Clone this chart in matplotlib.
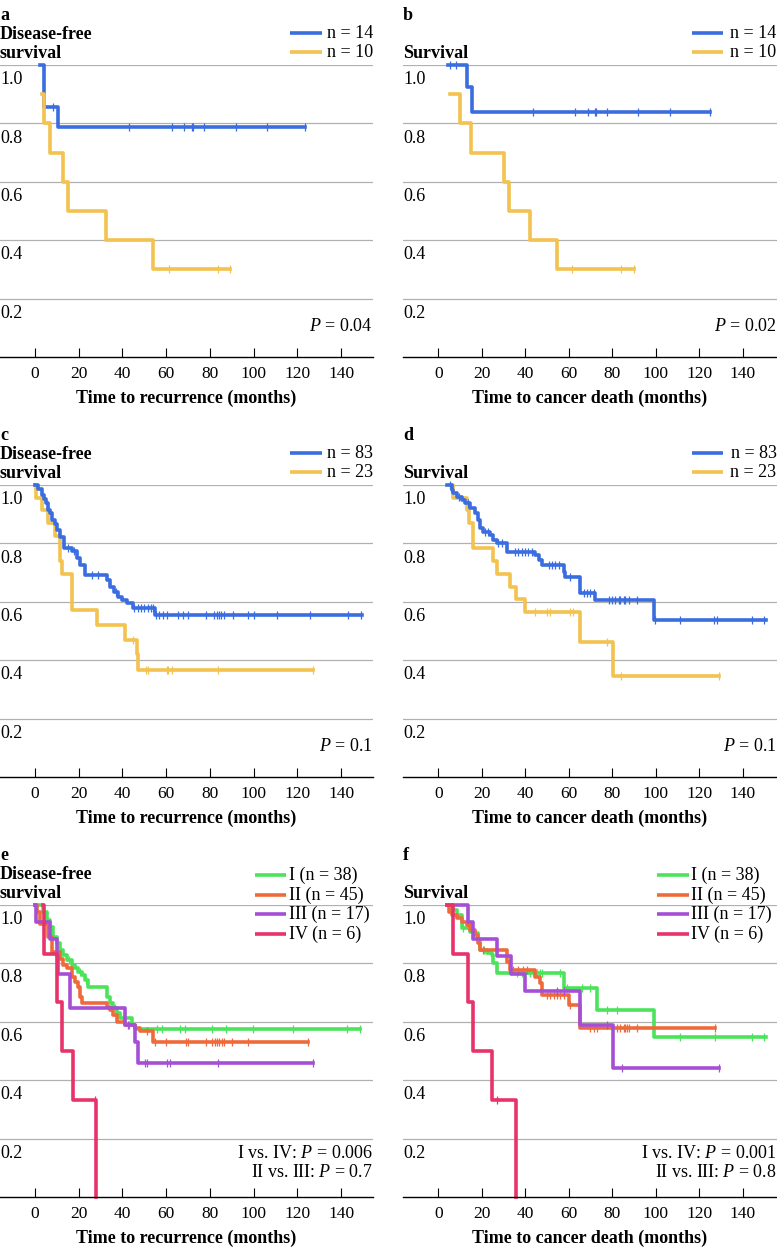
import numpy as np
import matplotlib.pyplot as plt

plt.rcParams['font.family'] = 'Liberation Serif'
plt.rcParams['mathtext.fontset'] = 'custom'
plt.rcParams['mathtext.rm'] = 'Liberation Serif'
plt.rcParams['mathtext.it'] = 'Liberation Serif:italic'

BLUE = '#3a6de0'
YELLOW = '#f3c24f'
GREEN = '#4be35a'
ORANGE = '#ef6a3a'
PURPLE = '#a54fd6'
RED = '#e8336a'

# ---- panel a: disease-free survival, small series ----
a_hi_t = [2.4, 4.1, 10.7]
a_hi_s = [1.0, 0.857, 0.786]
a_hi_end = 123.5
a_hi_cens = [8.1, 42.9, 62.8, 68.3, 71.7, 72.5, 77.5, 91.8, 106.1, 123.5]
a_lo_t = [3.0, 4.0, 6.9, 13.0, 15.0, 32.5, 53.9]
a_lo_s = [0.9, 0.8, 0.7, 0.6, 0.5, 0.4, 0.3]
a_lo_end = 89.2
a_lo_cens = [61.3, 83.9, 89.2]

# ---- panel b: survival, small series ----
b_hi_t = [4.6, 13.1, 15.4]
b_hi_s = [1.0, 0.923, 0.84]
b_hi_end = 124.7
b_hi_cens = [5.1, 8.0, 43.3, 62.6, 68.8, 71.9, 72.6, 77.5, 91.8, 106.7, 124.7]
b_lo_t = [5.4, 9.7, 14.9, 30.3, 32.6, 42.2, 54.5]
b_lo_s = [0.9, 0.8, 0.7, 0.6, 0.5, 0.4, 0.3]
b_lo_end = 89.8
b_lo_cens = [61.4, 84.1, 89.8]

# ---- panel c: disease-free survival, large series ----
c_hi_t = [0, 1.5, 3, 4, 5, 6, 7, 8, 9, 10, 11.5, 13.5, 16.8, 19, 20.5, 23,
          33, 34.5, 36, 38, 40, 42, 45, 55]
c_hi_s = [1.0, 0.988, 0.965, 0.952, 0.94, 0.916, 0.904, 0.88, 0.868, 0.845,
          0.822, 0.785, 0.773, 0.75, 0.727, 0.692, 0.675, 0.652, 0.635, 0.618,
          0.607, 0.595, 0.578, 0.555]
c_hi_end = 149.5
c_hi_cens = [15, 18, 26, 29, 37, 45.5, 47, 48.5, 50, 51.5, 53, 54.2, 55.4,
             56.9, 58.4, 60.2, 65.6, 67.9, 70.1, 78.2, 81.9, 83.1, 84.2, 85.2,
             86.5, 90.4, 97.6, 100.2, 110.9, 125.8, 143.0, 149.0]
c_lo_t = [0, 0.5, 3, 6, 9, 11.4, 12.2, 16.8, 28.2, 41.2, 46.5, 47.3]
c_lo_s = [1.0, 0.957, 0.913, 0.870, 0.826, 0.739, 0.696, 0.572, 0.522, 0.47,
          0.42, 0.366]
c_lo_end = 127.3
c_lo_cens = [45, 50.6, 51.9, 60.2, 61, 62.5, 83.9, 127.3]

# ---- panel d: survival, large series ----
d_hi_t = [3.9, 6.2, 6.9, 8.5, 10.8, 12.3, 14.6, 16.9, 18.4, 19.2, 20.7, 23.8,
          25.3, 26.9, 31.5, 44.5, 46.1, 47.6, 57.6, 58.4, 65.3, 72.2, 99.0]
d_hi_s = [1.0, 0.983, 0.971, 0.96, 0.949, 0.937, 0.92, 0.903, 0.88, 0.852,
          0.84, 0.829, 0.812, 0.8, 0.772, 0.76, 0.743, 0.726, 0.703, 0.686,
          0.629, 0.606, 0.538]
d_hi_end = 150.5
d_hi_cens = [5.5, 9.5, 13.5, 21.5, 22.8, 27.5, 29, 35.3, 36.8, 38.4, 39.9,
             41.4, 43.0, 50.7, 52.2, 53.7, 55.3, 60.7, 66.8, 68.3, 69.9, 71.4,
             78.3, 79.9, 81.4, 82.9, 83.7, 85.2, 86.0, 87.5, 91.4, 99.8, 111.3,
             126.6, 128.2, 144.3, 149.7]
d_lo_t = [6.2, 6.9, 13.1, 14.2, 15.8, 25.3, 26.9, 33.0, 35.8, 39.9, 65.3, 80.3]
d_lo_s = [1.0, 0.957, 0.913, 0.870, 0.783, 0.739, 0.696, 0.652, 0.609, 0.565,
          0.463, 0.346]
d_lo_end = 129
d_lo_cens = [44.5, 49.9, 51.1, 60.7, 61.9, 77.5, 84.0, 129]

# ---- panel e: disease-free survival by stage ----
e1_t = [0, 3.8, 5.3, 6.9, 8.4, 9.9, 11.4, 13.0, 14.5, 16.8, 18.3, 19.8, 21.3,
        22.9, 24.4, 32.8, 34.3, 35.8, 37.4, 38.9, 44.2, 45.8]
e1_s = [1.0, 0.977, 0.949, 0.924, 0.892, 0.869, 0.846, 0.829, 0.812, 0.795,
        0.783, 0.772, 0.760, 0.743, 0.720, 0.686, 0.663, 0.646, 0.629, 0.612,
        0.589, 0.574]
e1_end = 148.7
e1_cens = [15.5, 20.5, 23.5, 36.5, 55.7, 58.0, 66.3, 68.6, 80.8, 87.5, 99.9,
           118.2, 142.6, 148.7]
e2_t = [0, 1.0, 2.3, 6.1, 7.6, 11.4, 13.0, 14.5, 16.8, 18.3, 19.8, 20.6, 21.3,
        32.8, 34.3, 35.8, 37.4, 41.2, 45.8, 48.0, 54.1]
e2_s = [1.0, 0.977, 0.935, 0.889, 0.838, 0.815, 0.795, 0.783, 0.755, 0.738,
        0.720, 0.686, 0.663, 0.652, 0.640, 0.623, 0.601, 0.589, 0.578, 0.567,
        0.532]
e2_end = 125.1
e2_cens = [43, 51.1, 54.9, 59.8, 69.1, 70.2, 78.2, 80.8, 82.4, 83.4, 84.3,
           85.4, 86.5, 90.0, 97.3, 125.1]
e3_t = [0, 0.5, 6.9, 9.9, 10.5, 16.0, 41.2, 45.8, 47.3]
e3_s = [1.0, 0.941, 0.882, 0.824, 0.765, 0.647, 0.59, 0.53, 0.46]
e3_end = 127.3
e3_cens = [42.5, 50.3, 51.1, 60.2, 61.8, 83.9, 127.3]
e4_t = [3.8, 3.9, 9.9, 12.2, 17.2, 27.9]
e4_s = [1.0, 0.833, 0.667, 0.5, 0.333, 0.0]
e4_end = 27.9
e4_cens = [27.5]

# ---- panel f: survival by stage ----
f1_t = [3.9, 6.2, 8.5, 10.8, 14.6, 16.9, 18.4, 19.2, 22.3, 24.6, 25.3, 26.9,
        57.6, 72.9, 99.0]
f1_s = [1.0, 0.983, 0.966, 0.920, 0.909, 0.903, 0.880, 0.846, 0.835, 0.829,
        0.801, 0.766, 0.715, 0.641, 0.549]
f1_end = 150.5
f1_cens = [11.5, 21, 36.1, 38.4, 42.2, 45.3, 46.8, 47.6, 56.0, 59.1, 66.0,
           69.9, 77.5, 82.2, 111.3, 127.4, 144.3, 149.7]
f2_t = [3.9, 4.7, 6.2, 8.5, 10.8, 13.1, 14.6, 16.9, 18.4, 19.2, 31.5, 33.0,
        44.5, 46.8, 47.6, 59.9, 65.3]
f2_s = [1.0, 0.977, 0.966, 0.955, 0.943, 0.932, 0.915, 0.898, 0.869, 0.846,
        0.806, 0.778, 0.755, 0.732, 0.692, 0.658, 0.578]
f2_end = 127.4
f2_cens = [20.5, 34.5, 36.8, 39.1, 40.7, 49.9, 51.4, 53.0, 54.5, 56.0, 57.6,
           60.7, 69.9, 71.4, 72.9, 82.2, 83.7, 85.2, 86.0, 86.8, 87.5, 91.4,
           127.4]
f3_t = [6.9, 13.5, 16.1, 26.9, 33.3, 39.9, 65.3, 80.3]
f3_s = [1.0, 0.941, 0.882, 0.824, 0.765, 0.706, 0.588, 0.441]
f3_end = 129
f3_cens = [54.5, 57.6, 77.5, 84.4, 129]
f4_t = [3.9, 6.9, 13.6, 16.1, 24.6, 35.8]
f4_s = [1.0, 0.833, 0.667, 0.5, 0.333, 0.0]
f4_end = 35.8
f4_cens = [26.9]

yticks = [0.2, 0.4, 0.6, 0.8, 1.0]
xticks = [0, 20, 40, 60, 80, 100, 120, 140]
FS = 13
LW = 2.6


def km(ax, t, s, end, cens, color):
    x = list(t) + [end]
    y = list(s) + [s[-1]]
    ax.step(x, y, where='post', color=color, lw=LW, clip_on=False)
    idx = np.searchsorted(t, cens, side='right') - 1
    ax.plot(cens, np.array(s)[idx], ls='none', marker='|', ms=6, mew=0.9,
            color=color, clip_on=False)


def setup(ax, xlab, xlim, letter, ylab):
    ax.set_xlim(xlim)
    ax.set_ylim(0, 1)
    for sp in ['top', 'right', 'left']:
        ax.spines[sp].set_visible(False)
    ax.spines['bottom'].set_linewidth(1.0)
    ax.set_axisbelow(True)
    ax.set_yticks(yticks)
    ax.yaxis.grid(True, color='#b0b0b0', lw=0.9)
    ax.tick_params(axis='y', length=0, labelleft=False)
    ax.set_xticks(xticks)
    ax.tick_params(axis='x', direction='in', length=6.5, width=0.8,
                   labelsize=12.5, pad=6.5)
    for v in yticks:
        ax.text(0, v - 0.05, f'{v:.1f}', transform=ax.get_yaxis_transform(),
                ha='left', va='center', fontsize=FS)
    ax.set_xlabel(xlab, fontweight='bold', fontsize=FS, va='center')
    ax.xaxis.set_label_coords(0.5, -41 / 292)
    ax.text(0, 1.171, letter, transform=ax.transAxes, fontweight='bold',
            fontsize=FS, ha='left', va='center')
    for i, line in enumerate(ylab):
        ax.text(0, 1.038 + (len(ylab) - 1 - i) * 0.067, line,
                transform=ax.transAxes, fontweight='bold', fontsize=FS,
                ha='left', va='center')


def key(ax, colors, labels, x0, x1, rows, tx=None):
    # hand-placed legend keys, axes coordinates
    for c, lab, y in zip(colors, labels, rows):
        ax.plot([x0, x1], [y, y], color=c, lw=LW, transform=ax.transAxes,
                clip_on=False, solid_capstyle='butt')
        if tx is None:
            ax.text(1.0, y, lab, transform=ax.transAxes, ha='right',
                    va='center', fontsize=FS)
        else:
            ax.text(tx, y, lab, transform=ax.transAxes, ha='left',
                    va='center', fontsize=FS)


fig = plt.figure(figsize=(7.77, 12.48), dpi=100)
bottoms = [0.71394, 0.37740, 0.04087]
h = 0.23397
left_x = (-16.0, 154.6)
right_x = (-16.3, 155.5)
rec = 'Time to recurrence (months)'
dth = 'Time to cancer death (months)'
dfs = ['Disease-free', 'survival']
srv = ['Survival']
rows2 = [1.1096, 1.0445]
rows4 = [1.1027, 1.0342, 0.9675, 0.899]

ax = fig.add_axes([0.0, bottoms[0], 0.48, h])
setup(ax, rec, left_x, 'a', dfs)
km(ax, a_hi_t, a_hi_s, a_hi_end, a_hi_cens, BLUE)
km(ax, a_lo_t, a_lo_s, a_lo_end, a_lo_cens, YELLOW)
key(ax, [BLUE, YELLOW], ['n = 14', 'n = 10'], 0.7775, 0.863, rows2)
ax.text(1.0, 0.106, '$P$ = 0.04', transform=ax.transAxes, ha='right', va='center', fontsize=FS)

ax = fig.add_axes([0.5187, bottoms[0], 0.4807, h])
setup(ax, dth, right_x, 'b', srv)
km(ax, b_hi_t, b_hi_s, b_hi_end, b_hi_cens, BLUE)
km(ax, b_lo_t, b_lo_s, b_lo_end, b_lo_cens, YELLOW)
key(ax, [BLUE, YELLOW], ['n = 14', 'n = 10'], 0.775, 0.858, rows2)
ax.text(1.0, 0.106, '$P$ = 0.02', transform=ax.transAxes, ha='right', va='center', fontsize=FS)

ax = fig.add_axes([0.0, bottoms[1], 0.48, h])
setup(ax, rec, left_x, 'c', dfs)
km(ax, c_lo_t, c_lo_s, c_lo_end, c_lo_cens, YELLOW)
km(ax, c_hi_t, c_hi_s, c_hi_end, c_hi_cens, BLUE)
key(ax, [BLUE, YELLOW], ['n = 83', 'n = 23'], 0.7775, 0.863, rows2)
ax.text(1.0, 0.106, '$P$ = 0.1', transform=ax.transAxes, ha='right', va='center', fontsize=FS)

ax = fig.add_axes([0.5187, bottoms[1], 0.4807, h])
setup(ax, dth, right_x, 'd', srv)
km(ax, d_lo_t, d_lo_s, d_lo_end, d_lo_cens, YELLOW)
km(ax, d_hi_t, d_hi_s, d_hi_end, d_hi_cens, BLUE)
key(ax, [BLUE, YELLOW], ['n = 83', 'n = 23'], 0.775, 0.858, rows2)
ax.text(1.0, 0.106, '$P$ = 0.1', transform=ax.transAxes, ha='right', va='center', fontsize=FS)

stage_labels = ['I (n = 38)', 'II (n = 45)', 'III (n = 17)', 'IV (n = 6)']
stage_colors = [GREEN, ORANGE, PURPLE, RED]

ax = fig.add_axes([0.0, bottoms[2], 0.48, h])
setup(ax, rec, left_x, 'e', dfs)
km(ax, e1_t, e1_s, e1_end, e1_cens, GREEN)
km(ax, e2_t, e2_s, e2_end, e2_cens, ORANGE)
km(ax, e3_t, e3_s, e3_end, e3_cens, PURPLE)
km(ax, e4_t, e4_s, e4_end, e4_cens, RED)
key(ax, stage_colors, stage_labels, 0.684, 0.767, rows4, tx=0.775)
ax.text(1.0, 0.150, 'I vs. IV: $P$ = 0.006', transform=ax.transAxes, ha='right', va='center', fontsize=FS)
ax.text(1.0, 0.083, 'II vs. III: $P$ = 0.7', transform=ax.transAxes, ha='right', va='center', fontsize=FS)

ax = fig.add_axes([0.5187, bottoms[2], 0.4807, h])
setup(ax, dth, right_x, 'f', srv)
km(ax, f1_t, f1_s, f1_end, f1_cens, GREEN)
km(ax, f2_t, f2_s, f2_end, f2_cens, ORANGE)
km(ax, f3_t, f3_s, f3_end, f3_cens, PURPLE)
km(ax, f4_t, f4_s, f4_end, f4_cens, RED)
key(ax, stage_colors, stage_labels, 0.680, 0.765, rows4, tx=0.772)
ax.text(1.0, 0.150, 'I vs. IV: $P$ = 0.001', transform=ax.transAxes, ha='right', va='center', fontsize=FS)
ax.text(1.0, 0.083, 'II vs. III: $P$ = 0.8', transform=ax.transAxes, ha='right', va='center', fontsize=FS)

fig.savefig('out.png', dpi=100)
